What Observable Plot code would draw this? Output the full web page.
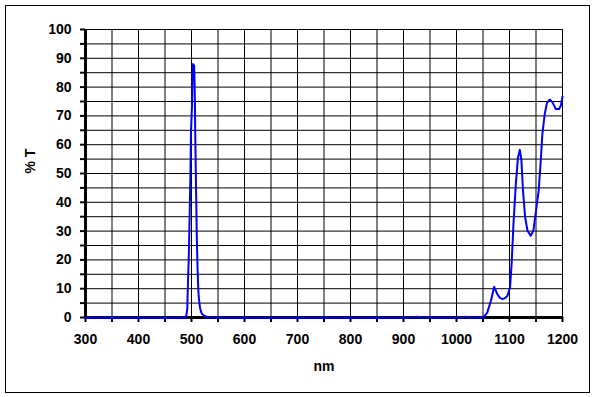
<!DOCTYPE html>
<html>
<head>
<meta charset="utf-8">
<script src="https://cdn.jsdelivr.net/npm/d3@7"></script>
<script src="https://cdn.jsdelivr.net/npm/@observablehq/plot@0.6"></script>
<style>
  body { margin: 0; background: #fff; }
  #wrap { position: relative; width: 597px; height: 397px; }
  #border { position: absolute; left: 5px; top: 5px; width: 585px; height: 388px; box-sizing: border-box; border: 1px solid #000; pointer-events: none; }
</style>
</head>
<body>
<div id="wrap"><div id="border"></div></div>
<script>
const wavelength = [300, 400, 480, 488, 490, 492, 493, 495, 496.5, 498, 499, 501, 502, 503, 505, 506, 506.5, 507, 508, 509, 510, 511, 512, 513, 514, 516, 518, 520, 525, 530, 540, 600, 700, 800, 900, 920, 926, 932, 1000, 1012, 1017, 1022, 1040, 1048, 1052, 1058, 1065, 1071, 1077, 1082, 1087, 1092, 1096, 1101, 1104, 1107.5, 1112, 1116, 1119.5, 1122.5, 1125.5, 1129.5, 1134, 1140, 1145, 1150, 1155, 1159, 1162, 1166.5, 1170.5, 1176, 1181, 1187.5, 1193.5, 1197, 1200];
const transmission = [0, 0, 0, 0.1, 0.5, 3, 10, 22, 35, 50, 64, 74, 84, 88, 87.5, 80, 74, 65, 52, 40, 28, 20, 14, 9, 6.5, 3.5, 2, 1.2, 0.5, 0.2, 0, 0, 0, 0, 0, 0, 0.3, 0, 0, 0, 0.3, 0, 0, 0.1, 0.3, 1.7, 5.8, 10.7, 8.1, 6.8, 6.4, 6.8, 7.5, 10.4, 18.6, 32.6, 46.5, 55.6, 58.2, 54.5, 44, 34.8, 30.1, 28.4, 30.1, 37, 44, 54.5, 63.7, 70.7, 74.4, 75.7, 74.7, 72.4, 72.4, 73.6, 76.7];
const yTicks = d3.range(0, 101, 5);
const xTicks = d3.range(300, 1201, 50);
const yLabel = "% T";
const xLabel = "nm";

const data = wavelength.map((w, i) => ({w, t: transmission[i]}));
const fam = "'Liberation Sans', Arial, sans-serif";

const chart = Plot.plot({
  width: 597,
  height: 397,
  marginLeft: 85,
  marginRight: 35,
  marginTop: 29,
  marginBottom: 80,
  style: {fontFamily: fam, fontWeight: "bold", fontSize: "14px", color: "#000", background: "transparent"},
  x: {domain: [300, 1200]},
  y: {domain: [0, 100]},
  marks: [
    Plot.gridY(yTicks, {stroke: "#000", strokeOpacity: 1, strokeWidth: 1}),
    Plot.gridX(xTicks, {stroke: "#000", strokeOpacity: 1, strokeWidth: 1}),
    Plot.axisY(yTicks, {tickSize: 5, strokeWidth: 2, tickPadding: 9, tickFormat: d => d % 10 === 0 ? String(d) : "", label: null, fill: "#000", fontWeight: "bold", fontSize: 14}),
    Plot.axisX(xTicks, {tickSize: 5, strokeWidth: 2, tickPadding: 12, tickFormat: d => d % 100 === 0 ? String(d) : "", label: null, fill: "#000", fontWeight: "bold", fontSize: 14}),
    Plot.ruleX([300], {stroke: "#000", strokeWidth: 3}),
    Plot.ruleY([0], {stroke: "#000", strokeWidth: 3}),
    Plot.line(data, {x: "w", y: "t", stroke: "#0000ff", strokeWidth: 2}),
    Plot.text([yLabel], {frameAnchor: "left", dx: -55, rotate: -90, fontWeight: "bold", fontSize: 14, fill: "#000"}),
    Plot.text([xLabel], {frameAnchor: "bottom", dy: 53, fontWeight: "bold", fontSize: 14, fill: "#000"})
  ]
});
document.getElementById("wrap").appendChild(chart);
</script>
</body>
</html>
